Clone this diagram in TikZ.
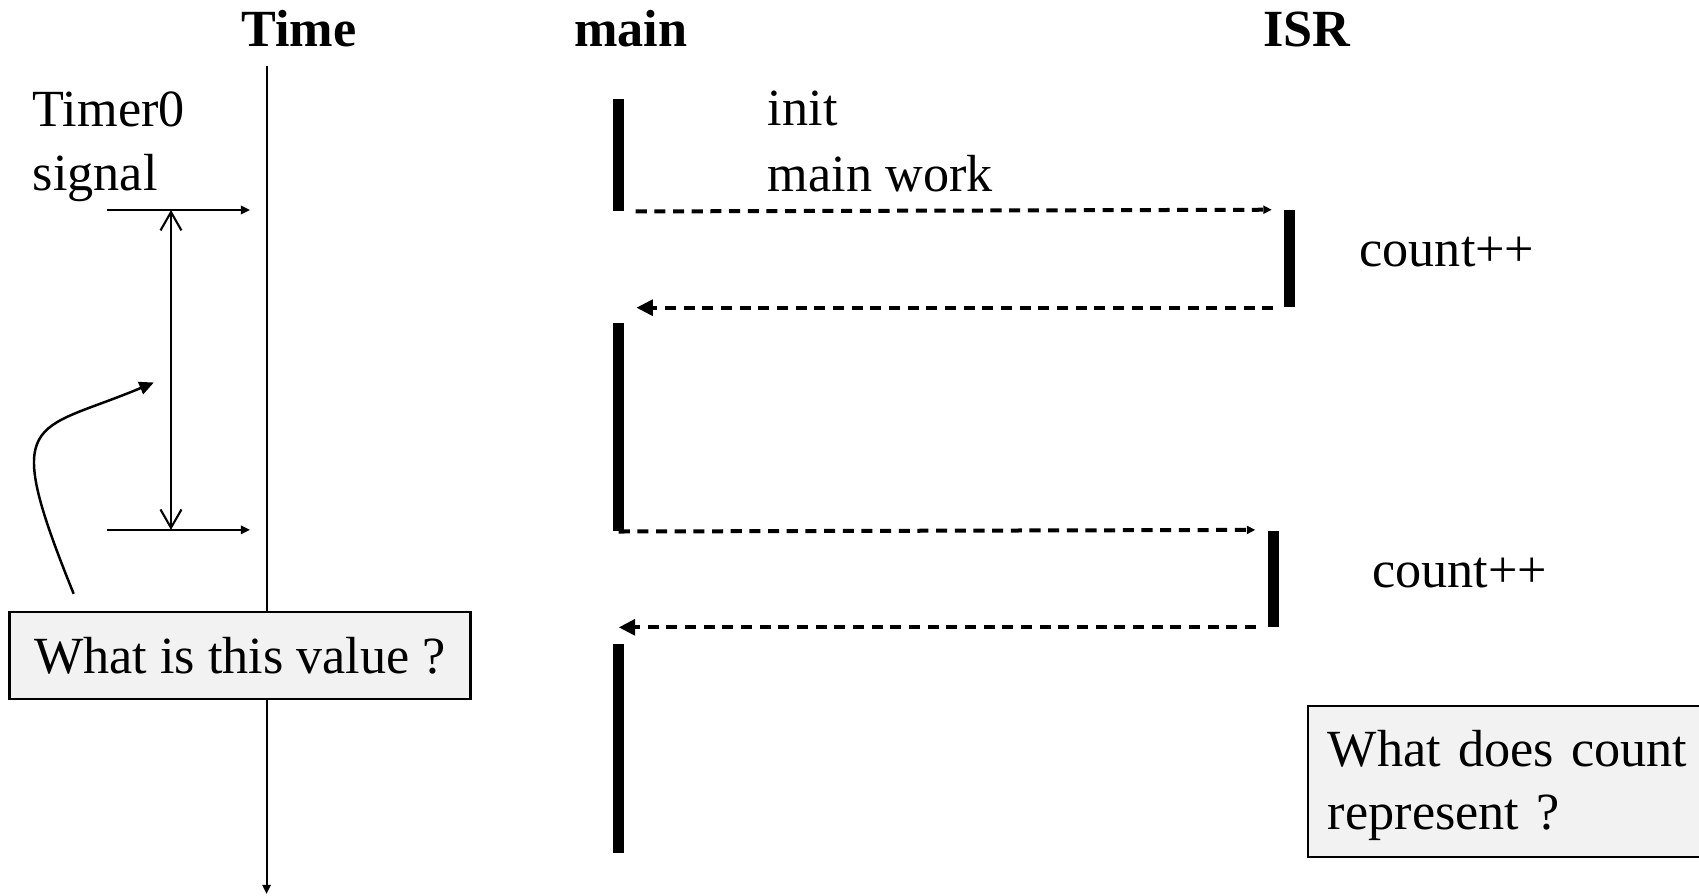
\documentclass[tikz,border=0pt]{standalone}
\usepackage{fontspec}
\setmainfont{Liberation Serif}
\usepackage{xcolor}
\usetikzlibrary{arrows.meta, positioning}

\definecolor{boxgray}{HTML}{F2F2F2}
\newcommand{\txtsize}{\fontsize{13.7}{16.5}\selectfont}

\tikzstyle{header} = [font=\txtsize\bfseries, inner sep=0pt, anchor=base]
\tikzstyle{plain} = [font=\txtsize, inner sep=0pt, anchor=base west]
\tikzstyle{bar} = [rectangle, fill=black, inner sep=0pt, minimum width=0.1cm, anchor=north]
\tikzstyle{question} = [rectangle, draw=black, line width=0.6pt, fill=boxgray, font=\txtsize]
\tikzstyle{callarrow} = [line width=1.05pt, dash pattern=on 2.9pt off 2pt, -{Triangle[length=2.2pt,width=2.1pt]}]
\tikzstyle{retarrow} = [line width=1.05pt, dash pattern=on 2.9pt off 2pt, -{Triangle[length=4.3pt,width=4.1pt]}]
\tikzstyle{thinarrow} = [line width=0.55pt, -{Triangle[length=2.4pt,width=2.2pt]}]
\tikzstyle{span} = [line width=0.55pt, {Straight Barb[length=4.8pt,width=5.5pt]}-{Straight Barb[length=4.8pt,width=5.5pt]}]
\tikzstyle{pointer} = [line width=0.65pt, -{Triangle[length=3.8pt,width=3.4pt]}]

\begin{document}
\begin{tikzpicture}[x=0.01cm, y=-0.01cm]

        \useasboundingbox (0,0) rectangle (1568,826);
        \clip (0,0) rectangle (1568,826);

        % Column headers
        \node (time) [header] at (276,43) {Time};
        \node (main) [header] at (582,43) {main};
        \node (isr) [header] at (1206,43) {ISR};

        % Time axis and timer ticks
        \coordinate (ttop) at (246,61);
        \coordinate (tbot) at (246,825);
        \coordinate (s1a) at (98.5,193.8);
        \coordinate (s1b) at (230.7,193.8);
        \coordinate (s2a) at (98.5,489);
        \coordinate (s2b) at (230.7,489);
        \coordinate (p1) at (157.8,193.8);
        \coordinate (p2) at (157.8,489);
        \coordinate (qfrom) at (68,548);
        \coordinate (qto) at (142,353);

        \draw [thinarrow] (ttop) -- (tbot);
        \node (timer) [plain] at (29.6,117) {Timer0};
        \node (signal) [plain] at (29.6,176) {signal};
        \draw [thinarrow] (s1a) -- (s1b);
        \draw [thinarrow] (s2a) -- (s2b);
        \draw [span] (p1) -- (p2);

        % Activity bars
        \node (m1) [bar, minimum height=1.03cm] at (571,90.7) {};
        \node (m2) [bar, minimum height=1.915cm] at (571,297.5) {};
        \node (m3) [bar, minimum height=1.92cm] at (571,594) {};
        \node (i1) [bar, minimum height=0.89cm] at (1190,193.5) {};
        \node (i2) [bar, minimum height=0.885cm] at (1175,489) {};

        \node (init) [plain] at (708,116) {init};
        \node (work) [plain] at (708,177) {main work};
        \node (inc1) [plain] at (1254,246) {count++};
        \node (inc2) [plain] at (1265.6,542) {count++};

        % Calls and returns
        \draw [callarrow, shorten <=0.1cm, shorten >=0.106cm] (m1.south east) -- (i1.north west);
        \draw [retarrow, shorten <=0.09cm, shorten >=0.106cm] (i1.south west) -- (i1.south west -| m1.east);
        \draw [callarrow, shorten >=0.108cm] (m2.south) -- (i2.north west);
        \draw [retarrow, shorten <=0.1cm] (i2.south west) -- (i2.south west -| m2.south);

        % Questions
        \node (what) [question, minimum width=4.25cm, minimum height=0.8cm, inner sep=0pt] at (221.5,605) {What is this value ?};
        \draw [pointer] (qfrom) .. controls (0,380) and (30,400) .. (qto);
        \node (count) [question, anchor=north west, minimum width=4cm, minimum height=1.393cm, text width=3.63cm, inner xsep=0.185cm, inner ysep=0pt, align=left] at (1206,650.7) {\rule{0pt}{0.4cm}What does count\\represent ?};

    \end{tikzpicture}
\end{document}
